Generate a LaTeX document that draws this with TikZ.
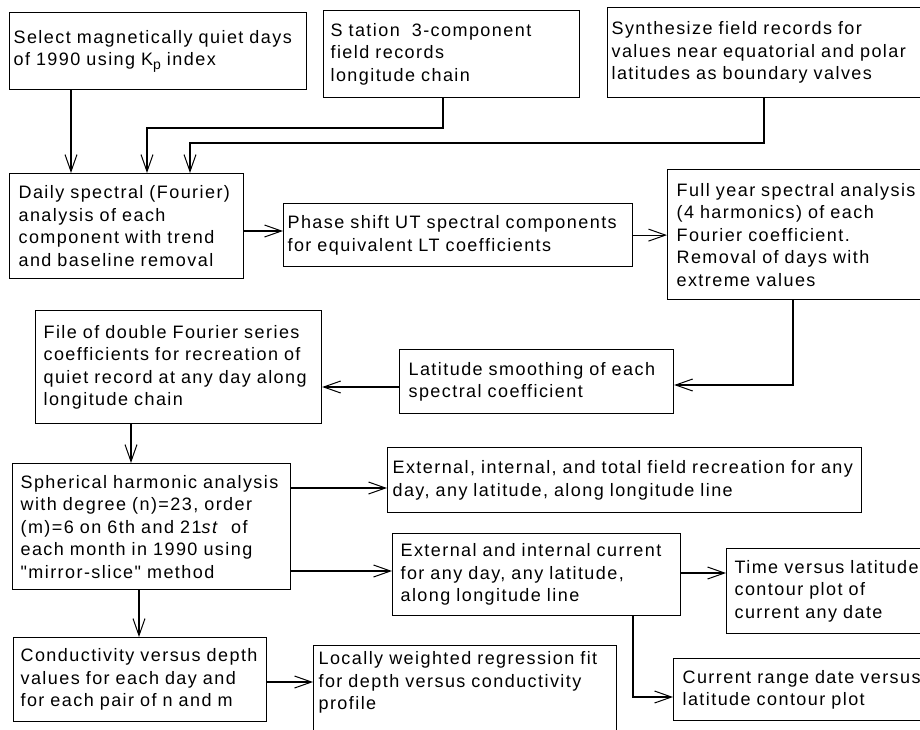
\documentclass[tikz,border=0pt]{standalone}
\usepackage{fontspec}
\setmainfont{Liberation Sans}[LetterSpace=8, Ligatures=TeXOff]
\usetikzlibrary{arrows.meta}
\newcommand{\boxfont}{\fontsize{18}{22.5}\selectfont}
\tikzset{
  box/.style={draw, line width=1.2pt, anchor=north west, align=left, inner xsep=8pt, inner ysep=0pt, font=\boxfont},
  conn/.style={line width=1.2pt, -{Straight Barb[length=17pt,width=12pt,line width=1pt]}}
}
\begin{document}
\begin{tikzpicture}[x=1pt,y=-1pt]
\useasboundingbox (0,0) rectangle (920,729);
\clip (0,0) rectangle (920,729);
% boxes: left,top ; width = right-left ; height = bottom-top
\node[box, text width=289pt, minimum height=77pt, inner xsep=4pt] (A) at (9,12) {Select magnetically quiet days\\of 1990 using K\raisebox{-0.4ex}{\fontsize{14}{14}\selectfont p} index};
\node[box, text width=242pt, minimum height=87pt, inner xsep=7pt] (B) at (323,10) {S tation\ \ 3-component\\field records\\longitude chain};
\node[box, minimum height=90pt, inner xsep=4pt, text width=325pt] (C) at (607,7) {Synthesize field records for\\values near equatorial and polar\\latitudes as boundary valves};
\node[box, text width=216pt, minimum height=105pt, inner xsep=9pt] (Daily) at (9,173) {Daily spectral (Fourier)\\analysis of each\\component with trend\\and baseline removal};
\node[box, text width=341pt, minimum height=63pt, inner xsep=4pt] (Phase) at (283,203) {Phase shift UT spectral components\\for equivalent LT coefficients};
\node[box, text width=255pt, minimum height=130pt, inner xsep=9pt] (Full) at (667,169) {Full year spectral analysis\\(4 harmonics) of each\\Fourier coefficient.\\Removal of days with\\extreme values};
\node[box, text width=256pt, minimum height=64pt, inner xsep=9pt] (Lat) at (399,349) {Latitude smoothing of each\\spectral coefficient};
\node[box, text width=270pt, minimum height=113pt] (File) at (35,310) {File of double Fourier series\\coefficients for recreation of\\quiet record at any day along\\longitude chain};
\node[box, text width=262pt, minimum height=126pt] (Sph) at (12,463) {Spherical harmonic analysis\\with degree (n)=23, order\\(m)=6 on 6th and 21\textit{st}\ \ of\\each month in 1990 using\\"mirror-slice" method};
\node[box, text width=464pt, minimum height=65pt, inner xsep=5pt] (Ext) at (387,447) {External, internal, and total field recreation for any\\day, any latitude, along longitude line};
\node[box, text width=272pt, minimum height=82pt, inner xsep=8pt] (Cur) at (392,533) {External and internal current\\for any day, any latitude,\\along longitude line};
\node[box, text width=198pt, minimum height=85pt] (Time) at (726,548) {Time versus latitude\\contour plot of\\current any date};
\node[box, text width=249pt, minimum height=62pt, inner xsep=9pt] (Range) at (673,658) {Current range date versus\\latitude contour plot};
\node[box, text width=239pt, minimum height=84pt, inner xsep=7pt] (Cond) at (13,637) {\mbox{Conductivity versus depth}\\values for each day and\\for each pair of n and m};
\node[box, text width=293pt, inner ysep=6pt, inner xsep=5pt] (Loc) at (313,645) {Locally weighted regression fit\\for depth versus conductivity\\profile\\\rule{0pt}{50pt}};
% bend coordinates
\coordinate (a1) at (71,0);
\coordinate (b1) at (443,128);
\coordinate (b2) at (147,128);
\coordinate (c1) at (764,143);
\coordinate (c2) at (190,143);
\coordinate (d1) at (0,231);
\coordinate (f1) at (793,385);
\coordinate (l1) at (0,387);
\coordinate (s1) at (131,0);
\coordinate (s2) at (0,488);
\coordinate (s3) at (0,571);
\coordinate (s4) at (139,0);
\coordinate (t1) at (0,573);
\coordinate (r1) at (633,697);
\coordinate (k1) at (0,682);
% connectors
\draw[conn] (A.south -| a1) -- (a1 |- Daily.north);
\draw[conn] (B.south -| b1) -- (b1) -- (b2) -- (b2 |- Daily.north);
\draw[conn] (C.south -| c1) -- (c1) -- (c2) -- (c2 |- Daily.north);
\draw[conn] (Daily.east |- d1) -- (Phase.west |- d1);
\draw[conn] (Phase.east) -- (Phase.east -| Full.west);
\draw[conn] (Full.south -| f1) -- (f1) -- (f1 -| Lat.east);
\draw[conn] (Lat.west |- l1) -- (File.east |- l1);
\draw[conn] (File.south -| s1) -- (s1 |- Sph.north);
\draw[conn] (Sph.east |- s2) -- (Ext.west |- s2);
\draw[conn] (Sph.east |- s3) -- (Cur.west |- s3);
\draw[conn] (Cur.east |- t1) -- (Time.west |- t1);
\draw[conn] (Cur.south -| r1) -- (r1) -- (r1 -| Range.west);
\draw[conn] (Sph.south -| s4) -- (s4 |- Cond.north);
\draw[conn] (Cond.east |- k1) -- (Loc.west |- k1);
\end{tikzpicture}
\end{document}
